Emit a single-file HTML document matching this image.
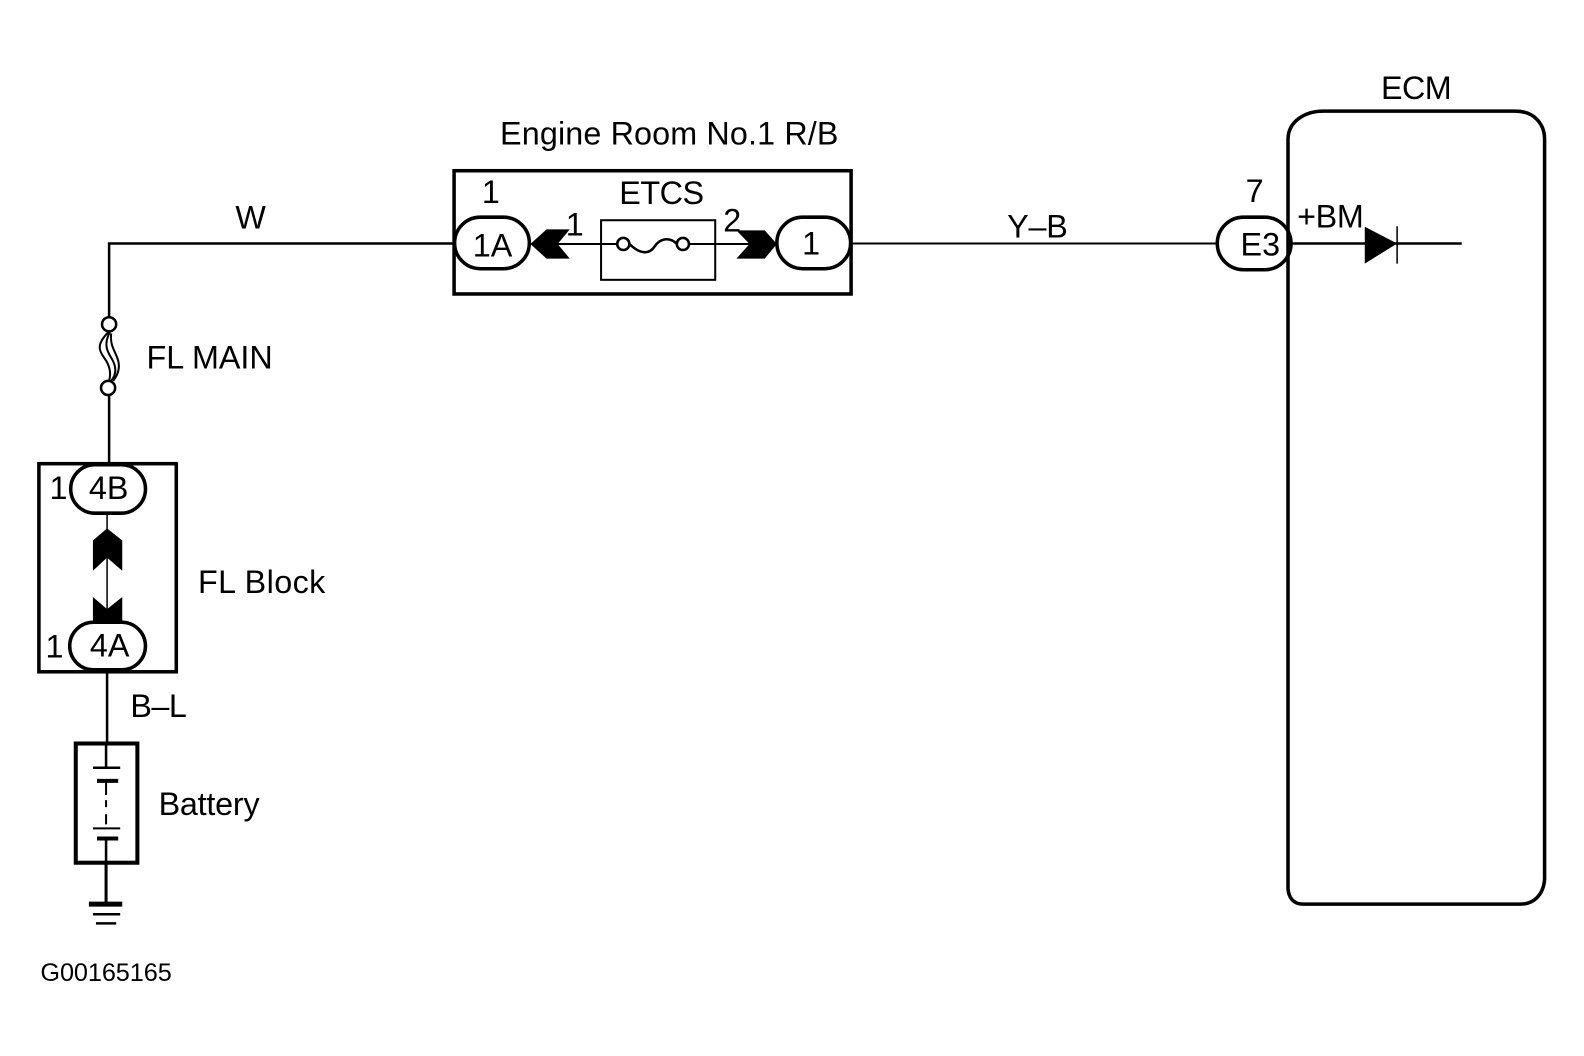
<!DOCTYPE html>
<html><head><meta charset="utf-8"><style>
html,body{margin:0;padding:0;background:#fff}
svg{display:block}
text{font-family:"Liberation Sans",sans-serif;fill:#000;font-size:32px}
</style></head><body>
<svg width="1584" height="1056" viewBox="0 0 1568 1045.33" xmlns="http://www.w3.org/2000/svg">
<g fill="none" stroke="#000" stroke-width="2.5">
<!-- main wires -->
<path d="M449 241H108V315"/>
<path d="M108 389V459"/>
<path d="M843 241H1205" stroke-width="2"/>
<path d="M1279 241H1447"/>
<path d="M106 665V735"/>
<path d="M105 855V895" stroke-width="3"/>
<!-- R/B box -->
<rect x="449.500" y="169" width="393" height="122" stroke-width="3.500"/>
<rect x="595" y="218" width="113" height="59" stroke-width="2"/>
<path d="M552 241.500H612M682 241.500H745" stroke-width="2"/>
<circle cx="617" cy="241.500" r="6" stroke-width="2.500"/>
<circle cx="676" cy="241.500" r="6" stroke-width="2.500"/>
<path d="M623 241.500C636 254 644 250 648 244C653 236 663 234 670 241.500" stroke-width="2.500"/>
<!-- pills -->
<rect x="450" y="215" width="74" height="51" rx="25.500" fill="#fff" stroke-width="3.500"/>
<rect x="769" y="215" width="73" height="51" rx="25.500" fill="#fff" stroke-width="3.500"/>
<rect x="1205" y="215" width="73" height="52" rx="26" fill="#fff" stroke-width="3.500"/>
<!-- ECM -->
<path d="M1290 895C1280 895 1275 888 1275 878V138C1275 120 1292 110 1310 110H1500C1518 110 1529 122 1529 138V870C1528 886 1518 895 1505 895Z" stroke-width="3.500"/>
<!-- FL main -->
<circle cx="108" cy="321" r="7" fill="#fff" stroke-width="2.500"/>
<circle cx="107" cy="384" r="7" fill="#fff" stroke-width="2.500"/>
<path d="M108 328C96 340 97 346 103 354C109 362 110 370 108 377" stroke-width="2"/>
<path d="M109 328C103 340 105 346 110 354C115 362 116 370 110 377" stroke-width="2"/>
<path d="M110 330C109 342 113 346 116 354C120 364 116 372 112 377" stroke-width="2"/>
<!-- FL block -->
<rect x="38.500" y="459" width="136" height="206" stroke-width="3.500"/>
<path d="M106 508V616" stroke-width="1.500"/>
<rect x="70" y="460" width="74" height="48" rx="24" fill="#fff" stroke-width="3.500"/>
<rect x="69" y="616" width="75" height="47" rx="23.500" fill="#fff" stroke-width="3.500"/>
<!-- battery -->
<rect x="75" y="736" width="61" height="118" stroke-width="4"/>
<path d="M105 736V760M92 760H119" stroke-width="2.500"/>
<path d="M96 773H117" stroke-width="4"/>
<path d="M105 775V787M105 792V799M105 806V816" stroke-width="2"/>
<path d="M92 820H119" stroke-width="2"/>
<path d="M96 830H117" stroke-width="4"/>
<path d="M105 832V856"/>
<path d="M88 895H121" stroke-width="5"/>
<path d="M92 905H119M95 914H115" stroke-width="2.500"/>
<!-- diode bar -->
<path d="M1383 224V261" stroke-width="1.500"/>
</g>
<!-- arrowheads -->
<g fill="#000">
<polygon points="525,241.500 541,227 564,227 552,241.500 564,256 541,256"/>
<polygon points="769,241.500 757,228 729,228 742,241.500 729,256 757,256"/>
<polygon points="106,523 121,535 121,565 106,552 92,565 92,535"/>
<polygon points="92,591 106,603 121,591 121,617 92,617"/>
<polygon points="1351,224.500 1383,241 1351,261"/>
</g>
<text x="495" y="143" textLength="335">Engine Room No.1 R/B</text>
<text x="1367" y="98" textLength="70">ECM</text>
<text x="233" y="226">W</text>
<text x="477" y="201">1</text>
<text x="613" y="202" textLength="84">ETCS</text>
<text x="560" y="233">1</text>
<text x="716" y="229">2</text>
<text x="468" y="254">1A</text>
<text x="794" y="252">1</text>
<text x="997" y="235" textLength="60">Y–B</text>
<text x="1233" y="200">7</text>
<text x="1228" y="253">E3</text>
<text x="1284" y="225" textLength="66">+BM</text>
<text x="145" y="365" textLength="125">FL MAIN</text>
<text x="196" y="587" textLength="126">FL Block</text>
<text x="49" y="494">1</text>
<text x="88" y="494">4B</text>
<text x="45" y="651">1</text>
<text x="89" y="650">4A</text>
<text x="129" y="710" textLength="56">B–L</text>
<text x="157" y="807" textLength="100">Battery</text>
<text x="40" y="971" style="font-size:25px" textLength="130">G00165165</text>
</svg>
</body></html>
